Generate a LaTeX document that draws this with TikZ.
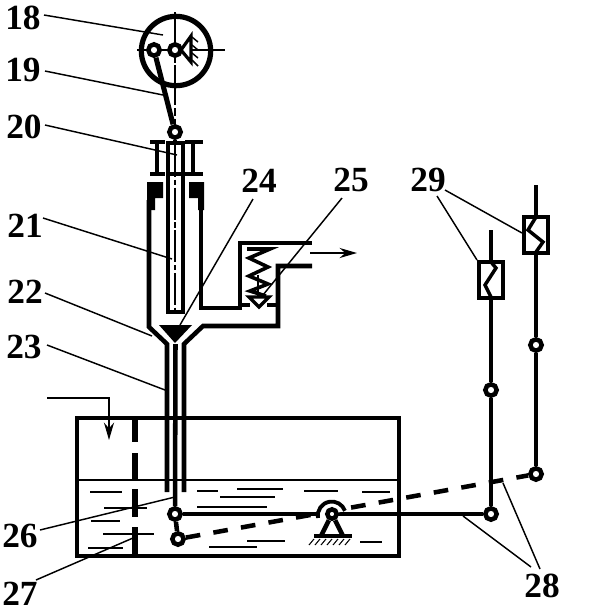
\documentclass[tikz,border=0pt]{standalone}
\usepackage{fontspec}
\setmainfont{Liberation Serif}
\usetikzlibrary{arrows.meta}

\begin{document}
\begin{tikzpicture}[
  x = 0.75pt, y = -0.75pt,      % one unit is one pixel of the drawing
  > = {Stealth[length = 13pt, width = 7.5pt]},   % arrow head style
  line join = miter
  ]

  \tikzstyle{T1}=[      % Defines style for the numbers
  inner sep = 0pt,
  font = \fontsize{26.5pt}{28pt}\selectfont\bfseries
  ]

  \tikzstyle{J1}=[      % Defines style for a pin joint
  circle,
  draw, fill = white,
  line width = 3.4pt,
  inner sep = 0pt,
  minimum size = 8.5pt
  ]

  \tikzstyle{B1}=[      % Defines style for a bimetal box
  rectangle,
  draw, fill = white,
  line width = 3pt,
  inner sep = 0pt,
  minimum width = 18pt,
  minimum height = 27pt
  ]

  \tikzstyle{W1}=[line width = 3.4pt]    % walls, rods
  \tikzstyle{L1}=[line width = 1.1pt]    % leader lines
  \tikzstyle{C1}=[line width = 0.8pt]    % centre lines
  \tikzstyle{F1}=[line width = 1.3pt]    % liquid

  \useasboundingbox (0,0) rectangle (603,612);

  % Cam at the top
  \node[circle, draw, line width = 3.9pt, inner sep = 0pt, minimum size = 52pt] (cam) at (176,51) {};
  \draw[C1] (137,50) -- (225,50);
  \draw[C1, dash pattern = on 30pt off 2pt on 6pt off 2pt] (175,12) -- (175,125);
  \draw[line width = 2.4pt, fill = white] (181,50) -- (191,36) -- (191,62) -- cycle;
  \draw[line width = 1.1pt] (192,37) -- (198,42) (192,45) -- (198,50) (192,53) -- (198,58) (192,60) -- (198,66);
  \node[J1] (roll) at (154,50) {};
  \node[J1] (hub) at (175,50) {};
  \node[J1] (top) at (175,132) {};
  \draw[W1] (hub) -- (181,50);
  \draw[line width = 3.8pt] (roll) -- (top);

  % Guide of the plunger
  \draw[W1] (150,142) -- (165,142) (150,174) -- (165,174) (157,142) -- (157,174);
  \draw[W1] (185,142) -- (203,142) (185,174) -- (203,174) (193,142) -- (193,174);
  \fill (147,182) -- (163,182) -- (163,198) -- (155,198) -- (155,210) -- (147,210) -- cycle;
  \fill (189,182) -- (204,182) -- (204,210) -- (198,210) -- (198,198) -- (189,198) -- cycle;

  % Plunger
  \coordinate (pin) at (175,143);
  \draw[W1] (168,143) rectangle (183,312);
  \draw[W1] (168,174) -- (183,174);
  \draw[W1] (top) -- (pin);
  \draw[C1, dash pattern = on 24pt off 2pt on 4pt off 2pt] (175,145) -- (175,310);
  \fill (159,325) -- (192,325) -- (175,343) -- cycle;

  % Body and the three tubes
  \draw[W1] (149,200) -- (149,327) -- (167,344) -- (167,492);
  \draw[W1] (201,200) -- (201,308) -- (240,308) -- (240,243) -- (312,243);
  \draw[W1] (184,492) -- (184,344) -- (203,326) -- (278,326) -- (278,266) -- (312,266);
  \node[J1] (jleft) at (175,514) {};
  \coordinate (neck) at (175.5,344);
  \draw[W1] (neck) -- (jleft);

  % Valve with spring
  \draw[line width = 2.7pt] (247,249) -- (270,249) -- (249,258) -- (268,267) -- (249,276) -- (268,284) -- (250,291) -- (266,296);
  \draw[line width = 2pt] (258,275) -- (258,300);
  \draw[line width = 2.6pt, fill = white] (249,297) -- (269,297) -- (259,307) -- cycle;
  \draw[W1] (240,305) -- (250,305) (267,305) -- (278,305);
  \draw[line width = 1.6pt, ->] (310,253) -- (357,253);

  % Tank
  \draw[W1] (77,418) rectangle (399,556);
  \draw[line width = 1.6pt] (77,480) -- (399,480);
  \draw[line width = 3.8pt] (135,418) -- (135,442) (135,453) -- (135,480) (135,489) -- (135,517) (135,527) -- (135,556);
  \draw[line width = 1.6pt, ->] (47,398) -- (109,398) -- (109,440);

  % Liquid
  \draw[F1] (90,492) -- (122,492) (104,508) -- (147,508) (91,521) -- (120,521) (103,534) -- (154,534) (88,548) -- (123,548);
  \draw[F1] (197,491) -- (218,491) (237,489) -- (283,489) (220,497) -- (275,497) (197,507) -- (267,507);
  \draw[F1] (304,491) -- (338,491) (362,492) -- (390,492) (209,547) -- (257,547) (247,541) -- (285,541) (360,542) -- (382,542);

  % Levers
  \node[J1] (jlow) at (178,539) {};
  \node[J1] (jbar) at (491,514) {};
  \node[J1] (jend) at (536,474) {};
  \draw[W1] (jleft) -- (jlow);
  \draw[W1] (jleft) -- (jbar);
  \draw[W1, dash pattern = on 11pt off 10pt] (jlow) -- (jend);

  % Pivot
  \draw[line width = 2.9pt, fill = white] (318,518) arc[start angle = 190, end angle = 20, radius = 10.5pt];
  \node[J1, minimum size = 7pt] (pivot) at (332,514) {};
  \coordinate (footl) at (321,536);
  \coordinate (footr) at (343,536);
  \draw[W1] (pivot) -- (footl);
  \draw[W1] (pivot) -- (footr);
  \draw[W1] (314,536) -- (352,536);
  \draw[line width = 0.8pt] (309,545) -- (314,539) (315,545) -- (320,539) (321,545) -- (326,539) (327,545) -- (332,539)
    (333,545) -- (338,539) (339,545) -- (344,539) (345,545) -- (350,539);

  % Bimetal rods on the right
  \node[B1] (bima) at (491,280) {};
  \node[B1] (bimb) at (536,235) {};
  \node[J1] (ja) at (491,390) {};
  \node[J1] (jb) at (536,345) {};
  \coordinate (enda) at (491,230);
  \coordinate (endb) at (536,185);
  \draw[W1] (enda) -- (bima);
  \draw[W1] (bima) -- (ja);
  \draw[W1] (ja) -- (jbar);
  \draw[W1] (endb) -- (bimb);
  \draw[W1] (bimb) -- (jb);
  \draw[W1] (jb) -- (jend);
  \draw[line width = 2.6pt] (491,262) -- (496,268) -- (485,285) -- (491,297);
  \draw[line width = 2.6pt] (536,217) -- (528,230) -- (543,242) -- (536,252);

  % Numbers
  \node[T1] (n18) at (23,18) {18};
  \node[T1] (n19) at (23,70) {19};
  \node[T1] (n20) at (24,127) {20};
  \node[T1] (n21) at (25,226) {21};
  \node[T1] (n22) at (25,292) {22};
  \node[T1] (n23) at (24,347) {23};
  \node[T1] (n24) at (259,181) {24};
  \node[T1] (n25) at (351,180) {25};
  \node[T1] (n26) at (20,536) {26};
  \node[T1] (n27) at (20,594) {27};
  \node[T1] (n28) at (542,586) {28};
  \node[T1] (n29) at (428,180) {29};

  % Leader lines
  \draw[L1] (44,15) -- (163,35);
  \draw[L1] (45,71) -- (163,95);
  \draw[L1] (45,125) -- (177,155);
  \draw[L1] (43,218) -- (172,259);
  \draw[L1] (45,293) -- (152,336);
  \draw[L1] (47,345) -- (165,390);
  \draw[L1] (253,199) -- (180,325);
  \draw[L1] (342,198) -- (263,295);
  \draw[L1] (40,530) -- (175,497);
  \draw[L1] (36,580) -- (133,538);
  \draw[L1] (463,516) -- (531,567);
  \draw[L1] (503,483) -- (540,569);
  \draw[L1] (437,196) -- (477,260);
  \draw[L1] (445,190) -- (522,233);
\end{tikzpicture}
\end{document}
